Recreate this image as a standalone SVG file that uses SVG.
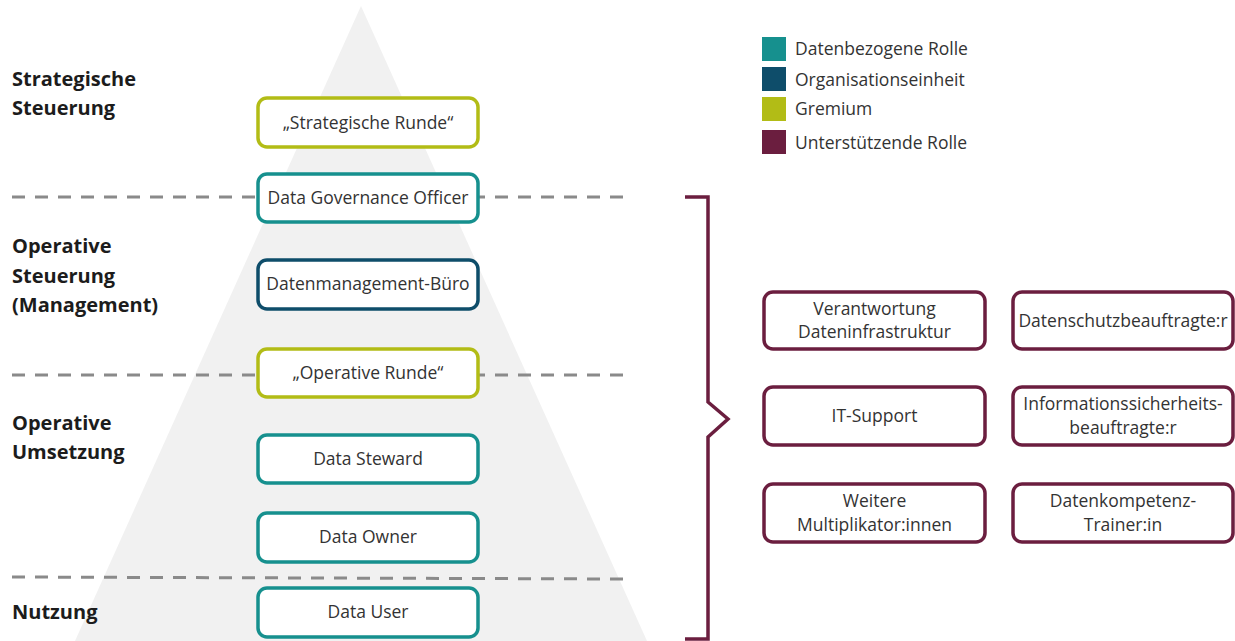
<svg xmlns="http://www.w3.org/2000/svg" width="1235" height="641" viewBox="0 0 1235 641">
<style>
  .lvl { font-family: "Open Sans", "Liberation Sans", sans-serif; font-weight: 700; font-size: 20px; fill: #1c1c1c; }
  .t { font-family: "Open Sans", "Liberation Sans", sans-serif; font-size: 17.5px; fill: #333333; text-anchor: middle; }
  .lg { font-family: "Open Sans", "Liberation Sans", sans-serif; font-size: 17.5px; fill: #333333; }
  .box { fill: #ffffff; stroke-width: 3.5; }
  .data { stroke: #16908e; }
  .org { stroke: #0e4d6a; }
  .grem { stroke: #b2bc16; }
  .supp { stroke: #6b1e3f; }
  .sep { stroke: #8a8a8a; stroke-width: 3; stroke-dasharray: 13 10; fill: none; }
</style>
<rect width="1235" height="641" fill="#ffffff"/>
<polygon id="pyramid" points="361,6 647,641 75,641" fill="#f1f1f1"/>

<g id="levels">
  <text class="lvl" x="12" y="86">Strategische</text>
  <text class="lvl" x="12" y="115">Steuerung</text>
  <text class="lvl" x="12" y="253">Operative</text>
  <text class="lvl" x="12" y="283">Steuerung</text>
  <text class="lvl" x="12" y="312">(Management)</text>
  <text class="lvl" x="12" y="430">Operative</text>
  <text class="lvl" x="12" y="459">Umsetzung</text>
  <text class="lvl" x="12" y="619">Nutzung</text>
</g>

<g id="separators">
  <line class="sep" x1="12" y1="197" x2="625" y2="197"/>
  <line class="sep" x1="12" y1="375" x2="625" y2="375"/>
  <line class="sep" x1="12" y1="577" x2="623" y2="579"/>
</g>

<g id="connectors">
  <path d="M685,197 H708 V402 L728,419 L708,437 V639 H685" fill="none" stroke="#6b1e3f" stroke-width="3.5"/>
</g>

<g id="strategische-runde">
  <rect class="box grem" x="258" y="98" width="220" height="49" rx="9"/>
  <text class="t" x="368" y="129">„Strategische Runde“</text>
</g>
<g id="data-governance-officer">
  <rect class="box data" x="258" y="174" width="220" height="48" rx="9"/>
  <text class="t" x="368" y="204">Data Governance Officer</text>
</g>
<g id="datenmanagement-buero">
  <rect class="box org" x="258" y="260" width="220" height="49" rx="9"/>
  <text class="t" x="368" y="290">Datenmanagement-Büro</text>
</g>
<g id="operative-runde">
  <rect class="box grem" x="258" y="349" width="220" height="48" rx="9"/>
  <text class="t" x="368" y="379">„Operative Runde“</text>
</g>
<g id="data-steward">
  <rect class="box data" x="258" y="435" width="220" height="48" rx="9"/>
  <text class="t" x="368" y="465">Data Steward</text>
</g>
<g id="data-owner">
  <rect class="box data" x="258" y="513" width="220" height="49" rx="9"/>
  <text class="t" x="368" y="543">Data Owner</text>
</g>
<g id="data-user">
  <rect class="box data" x="258" y="588" width="220" height="49" rx="9"/>
  <text class="t" x="368" y="618">Data User</text>
</g>

<g id="verantwortung-dateninfrastruktur">
  <rect class="box supp" x="764" y="292" width="221" height="57" rx="9"/>
  <text class="t" x="874.5" y="315">Verantwortung</text>
  <text class="t" x="874.5" y="338">Dateninfrastruktur</text>
</g>
<g id="datenschutzbeauftragte">
  <rect class="box supp" x="1013" y="292" width="220" height="57" rx="9"/>
  <text class="t" x="1123" y="327">Datenschutzbeauftragte:r</text>
</g>
<g id="it-support">
  <rect class="box supp" x="764" y="387" width="221" height="58" rx="9"/>
  <text class="t" x="874.5" y="422">IT-Support</text>
</g>
<g id="informationssicherheitsbeauftragte">
  <rect class="box supp" x="1013" y="387" width="220" height="58" rx="9"/>
  <text class="t" x="1123" y="410">Informationssicherheits-</text>
  <text class="t" x="1123" y="434">beauftragte:r</text>
</g>
<g id="weitere-multiplikatoren">
  <rect class="box supp" x="764" y="484" width="221" height="58" rx="9"/>
  <text class="t" x="874.5" y="507">Weitere</text>
  <text class="t" x="874.5" y="531">Multiplikator:innen</text>
</g>
<g id="datenkompetenz-trainer">
  <rect class="box supp" x="1013" y="484" width="220" height="58" rx="9"/>
  <text class="t" x="1123" y="507">Datenkompetenz-</text>
  <text class="t" x="1123" y="531">Trainer:in</text>
</g>

<g id="legend">
  <rect x="762" y="37" width="24" height="24" fill="#16908e"/>
  <text class="lg" x="795" y="55">Datenbezogene Rolle</text>
  <rect x="762" y="67" width="24" height="24" fill="#0e4d6a"/>
  <text class="lg" x="795" y="86">Organisationseinheit</text>
  <rect x="762" y="97" width="24" height="24" fill="#b2bc16"/>
  <text class="lg" x="795" y="115">Gremium</text>
  <rect x="762" y="130" width="24" height="24" fill="#6b1e3f"/>
  <text class="lg" x="795" y="149">Unterstützende Rolle</text>
</g>
</svg>
